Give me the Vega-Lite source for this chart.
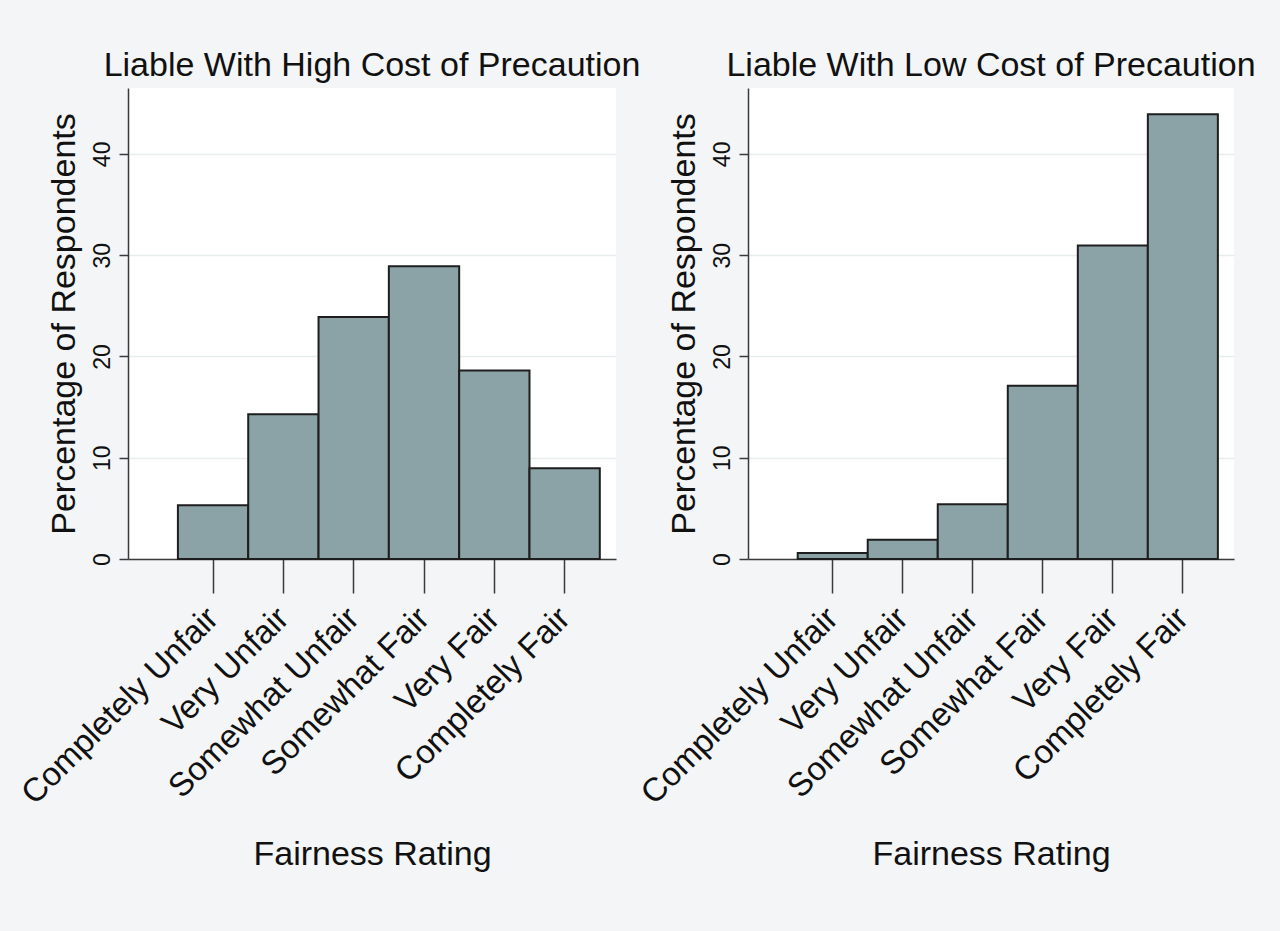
{
  "$schema": "https://vega.github.io/schema/vega-lite/v6.json",
  "description": "Fairness ratings of liability under high and low cost of precaution.",
  "background": "#f3f5f6",
  "padding": {"left": 15, "top": 49, "right": 28, "bottom": 60},
  "datasets": {
    "ratings": [
      {"cost": "High", "rating": "Completely Unfair", "pct": 5.3},
      {"cost": "High", "rating": "Very Unfair", "pct": 14.3},
      {"cost": "High", "rating": "Somewhat Unfair", "pct": 23.9},
      {"cost": "High", "rating": "Somewhat Fair", "pct": 28.9},
      {"cost": "High", "rating": "Very Fair", "pct": 18.6},
      {"cost": "High", "rating": "Completely Fair", "pct": 8.95},
      {"cost": "Low", "rating": "Completely Unfair", "pct": 0.6},
      {"cost": "Low", "rating": "Very Unfair", "pct": 1.9},
      {"cost": "Low", "rating": "Somewhat Unfair", "pct": 5.4},
      {"cost": "Low", "rating": "Somewhat Fair", "pct": 17.1},
      {"cost": "Low", "rating": "Very Fair", "pct": 30.95},
      {"cost": "Low", "rating": "Completely Fair", "pct": 43.9}
    ]
  },
  "data": {"name": "ratings"},
  "bounds": "flush",
  "spacing": 132,
  "config": {
    "font": "Liberation Sans",
    "view": {"stroke": null, "fill": "white"},
    "axis": {
      "domainColor": "#3a3a3a",
      "domainWidth": 1.5,
      "tickColor": "#3a3a3a",
      "tickWidth": 1.5,
      "labelColor": "#111111",
      "titleColor": "#111111",
      "titleFontSize": 34,
      "titleFontWeight": "normal",
      "labelLimit": 0,
      "gridColor": "#e8eeee",
      "gridWidth": 1.5
    },
    "title": {"fontSize": 34, "fontWeight": "normal", "color": "#111111", "offset": 5}
  },
  "hconcat": [
    {
      "title": "Liable With High Cost of Precaution",
      "transform": [{"filter": "datum.cost == 'High'"}],
      "width": 488,
      "height": 471,
      "mark": {"type": "bar", "fill": "#8ba3a6", "stroke": "#1e1e1e", "strokeWidth": 2},
      "encoding": {
        "x": {
          "field": "rating",
          "type": "ordinal",
          "sort": ["Completely Unfair", "Very Unfair", "Somewhat Unfair", "Somewhat Fair", "Very Fair", "Completely Fair"],
          "title": "Fairness Rating",
          "scale": {"paddingInner": 0, "paddingOuter": 0.47, "align": 0.755},
          "axis": {"labelAngle": -45, "labelAlign": "right", "labelBaseline": "middle", "labelFontSize": 33, "tickSize": 34, "labelPadding": 20, "titlePadding": 78, "grid": false}
        },
        "y": {
          "field": "pct",
          "type": "quantitative",
          "title": "Percentage of Respondents",
          "scale": {"domain": [0, 46.5], "nice": false},
          "axis": {"values": [0, 10, 20, 30, 40], "labelAngle": -90, "labelAlign": "center", "labelBaseline": "bottom", "labelFontSize": 23, "tickSize": 9, "labelPadding": 5, "titlePadding": 10, "grid": true}
        }
      }
    },
    {
      "title": "Liable With Low Cost of Precaution",
      "transform": [{"filter": "datum.cost == 'Low'"}],
      "width": 486,
      "height": 471,
      "mark": {"type": "bar", "fill": "#8ba3a6", "stroke": "#1e1e1e", "strokeWidth": 2},
      "encoding": {
        "x": {
          "field": "rating",
          "type": "ordinal",
          "sort": ["Completely Unfair", "Very Unfair", "Somewhat Unfair", "Somewhat Fair", "Very Fair", "Completely Fair"],
          "title": "Fairness Rating",
          "scale": {"paddingInner": 0, "paddingOuter": 0.47, "align": 0.755},
          "axis": {"labelAngle": -45, "labelAlign": "right", "labelBaseline": "middle", "labelFontSize": 33, "tickSize": 34, "labelPadding": 20, "titlePadding": 78, "grid": false}
        },
        "y": {
          "field": "pct",
          "type": "quantitative",
          "title": "Percentage of Respondents",
          "scale": {"domain": [0, 46.5], "nice": false},
          "axis": {"values": [0, 10, 20, 30, 40], "labelAngle": -90, "labelAlign": "center", "labelBaseline": "bottom", "labelFontSize": 23, "tickSize": 9, "labelPadding": 5, "titlePadding": 10, "grid": true}
        }
      }
    }
  ]
}
